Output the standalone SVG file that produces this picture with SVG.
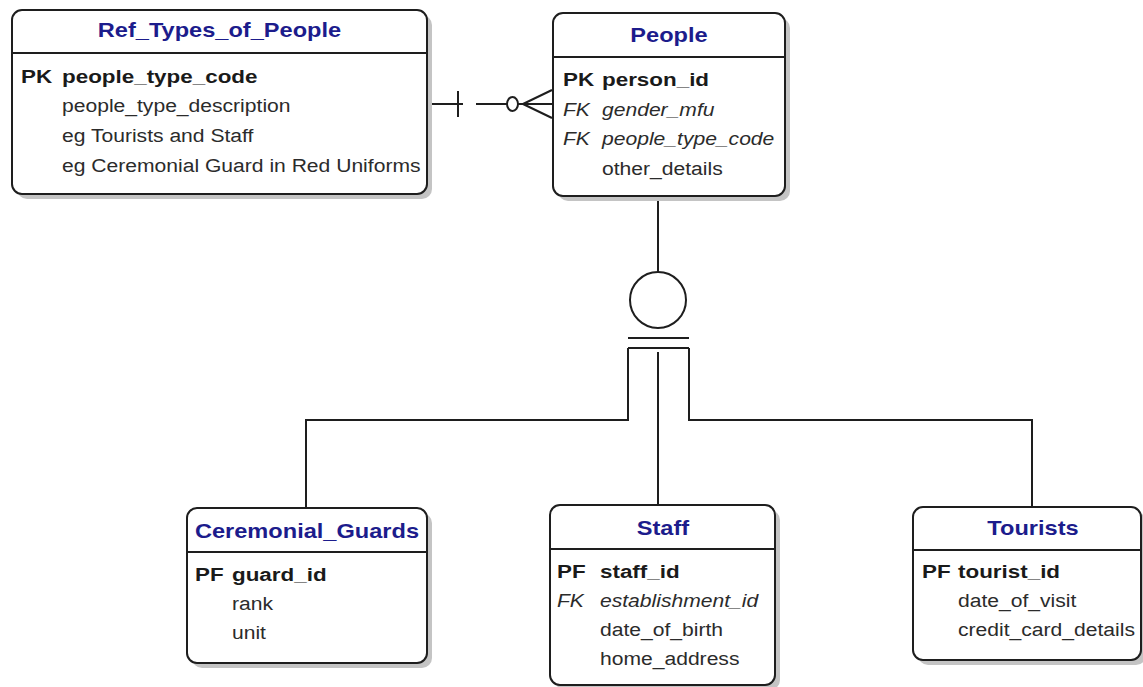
<svg xmlns="http://www.w3.org/2000/svg" width="1143" height="687" viewBox="0 0 1143 687">
<style>
.bg{fill:#fff}
.sh{fill:#c4c4c4}
.box{fill:#fff;stroke:#1e1e1e;stroke-width:2}
.sep{stroke:#1e1e1e;stroke-width:2}
.ln{fill:none;stroke:#1e1e1e;stroke-width:2}
text{font-family:"Liberation Sans",Arial,sans-serif;fill:#2b2b2b}
.ttl{font-size:20px;font-weight:bold;fill:#1c1c8c;text-anchor:middle}
.b{font-size:19px;font-weight:bold;fill:#1a1a1a}
.r{font-size:19px}
.i{font-size:19px;font-style:italic}
</style>
<rect class="bg" x="0" y="0" width="1143" height="687"/>

<g id="connectors">
  <path class="ln" d="M427,104 H463 M458,91 V117"/>
  <path class="ln" d="M476,104 H507"/>
  <ellipse class="ln" cx="512.5" cy="104" rx="5.5" ry="7"/>
  <path class="ln" d="M518,104 H552 M523,104 L552,90 M523,104 L552,118"/>
  <path class="ln" d="M658,196 V272"/>
  <circle class="ln" cx="658" cy="300" r="28"/>
  <path class="ln" d="M628,338 H689 M628,348 H689"/>
  <path class="ln" d="M628,348 V420 H306 V508"/>
  <path class="ln" d="M689,348 V420 H1032 V507"/>
  <path class="ln" d="M658,352 V504"/>
</g>

<g id="Ref_Types_of_People">
  <rect class="sh" x="17" y="15" width="415" height="184" rx="10"/>
  <rect class="box" x="12" y="10" width="415" height="184" rx="10"/>
  <line class="sep" x1="12" y1="53" x2="427" y2="53"/>
  <text class="ttl" x="219.5" y="37" transform="matrix(1.18 0 0 1 -39.51 0)">Ref_Types_of_People</text>
  <text class="b" x="21" y="83" transform="matrix(1.18 0 0 1 -3.78 0)">PK</text>
  <text class="b" x="62" y="83" transform="matrix(1.18 0 0 1 -11.16 0)">people_type_code</text>
  <text class="r" x="62" y="112" transform="matrix(1.11 0 0 1 -6.82 0)">people_type_description</text>
  <text class="r" x="62" y="142" transform="matrix(1.11 0 0 1 -6.82 0)">eg Tourists and Staff</text>
  <text class="r" x="62" y="172" transform="matrix(1.11 0 0 1 -6.82 0)">eg Ceremonial Guard in Red Uniforms</text>
</g>

<g id="People">
  <rect class="sh" x="558" y="18" width="232" height="183" rx="10"/>
  <rect class="box" x="553" y="13" width="232" height="183" rx="10"/>
  <line class="sep" x1="553" y1="57" x2="785" y2="57"/>
  <text class="ttl" x="669" y="42" transform="matrix(1.18 0 0 1 -120.42 0)">People</text>
  <text class="b" x="563" y="86" transform="matrix(1.18 0 0 1 -101.34 0)">PK</text>
  <text class="b" x="602" y="86" transform="matrix(1.18 0 0 1 -108.36 0)">person_id</text>
  <text class="i" x="563" y="116" transform="matrix(1.11 0 0 1 -61.93 0)">FK</text>
  <text class="i" x="602" y="116" transform="matrix(1.11 0 0 1 -66.22 0)">gender_mfu</text>
  <text class="i" x="563" y="145" transform="matrix(1.11 0 0 1 -61.93 0)">FK</text>
  <text class="i" x="602" y="145" transform="matrix(1.11 0 0 1 -66.22 0)">people_type_code</text>
  <text class="r" x="602" y="175" transform="matrix(1.11 0 0 1 -66.22 0)">other_details</text>
</g>

<g id="Ceremonial_Guards">
  <rect class="sh" x="192" y="513" width="240" height="155" rx="10"/>
  <rect class="box" x="187" y="508" width="240" height="155" rx="10"/>
  <line class="sep" x1="187" y1="552" x2="427" y2="552"/>
  <text class="ttl" x="307" y="538" transform="matrix(1.18 0 0 1 -55.26 0)">Ceremonial_Guards</text>
  <text class="b" x="195" y="581" transform="matrix(1.18 0 0 1 -35.1 0)">PF</text>
  <text class="b" x="232" y="581" transform="matrix(1.18 0 0 1 -41.76 0)">guard_id</text>
  <text class="r" x="232" y="610" transform="matrix(1.11 0 0 1 -25.52 0)">rank</text>
  <text class="r" x="232" y="639" transform="matrix(1.11 0 0 1 -25.52 0)">unit</text>
</g>

<g id="Staff">
  <rect class="sh" x="555" y="510" width="225" height="180" rx="10"/>
  <rect class="box" x="550" y="505" width="225" height="180" rx="10"/>
  <line class="sep" x1="550" y1="549" x2="775" y2="549"/>
  <text class="ttl" x="663" y="535" transform="matrix(1.18 0 0 1 -119.34 0)">Staff</text>
  <text class="b" x="557" y="578" transform="matrix(1.18 0 0 1 -100.26 0)">PF</text>
  <text class="b" x="600" y="578" transform="matrix(1.18 0 0 1 -108 0)">staff_id</text>
  <text class="i" x="557" y="607" transform="matrix(1.11 0 0 1 -61.27 0)">FK</text>
  <text class="i" x="600" y="607" transform="matrix(1.11 0 0 1 -66 0)">establishment_id</text>
  <text class="r" x="600" y="636" transform="matrix(1.11 0 0 1 -66 0)">date_of_birth</text>
  <text class="r" x="600" y="665" transform="matrix(1.11 0 0 1 -66 0)">home_address</text>
</g>

<g id="Tourists">
  <rect class="sh" x="918" y="512" width="228" height="153" rx="10"/>
  <rect class="box" x="913" y="507" width="228" height="153" rx="10"/>
  <line class="sep" x1="913" y1="550" x2="1141" y2="550"/>
  <text class="ttl" x="1033" y="535" transform="matrix(1.18 0 0 1 -185.94 0)">Tourists</text>
  <text class="b" x="922" y="578" transform="matrix(1.18 0 0 1 -165.96 0)">PF</text>
  <text class="b" x="958" y="578" transform="matrix(1.18 0 0 1 -172.44 0)">tourist_id</text>
  <text class="r" x="958" y="607" transform="matrix(1.11 0 0 1 -105.38 0)">date_of_visit</text>
  <text class="r" x="958" y="636" transform="matrix(1.11 0 0 1 -105.38 0)">credit_card_details</text>
</g>
</svg>
